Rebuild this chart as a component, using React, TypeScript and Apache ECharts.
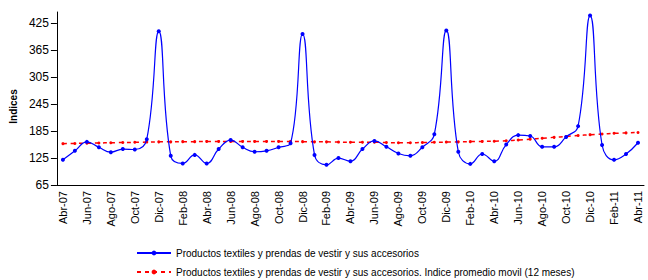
import React, { useEffect, useRef } from "react";
import * as echarts from "echarts";

const months = ["Abr", "May", "Jun", "Jul", "Ago", "Sep", "Oct", "Nov", "Dic", "Ene", "Feb", "Mar"];
const categories: string[] = [];
(() => {
  let y = 7;
  for (let i = 0; i < 49; i++) {
    const m = months[i % 12];
    if (m === "Ene") y += 1;
    categories.push(m + "-" + String(y).padStart(2, "0"));
  }
})();

const seriesName1 = "Productos textiles y prendas de vestir y sus accesorios";
const seriesName2 = "Productos textiles y prendas de vestir y sus accesorios. Indice promedio movil (12 meses)";

const indexValues = [
  121, 141, 161, 149, 138, 145, 144, 167, 407, 130, 113, 132,
  113, 145, 165, 149, 139, 141, 149, 158, 401, 132, 110, 125,
  118, 145, 163, 150, 135, 130, 149, 178, 409, 139, 112, 134,
  118, 155, 176, 174, 150, 150, 172, 196, 442, 154, 121, 134,
  159,
];

const movingAvg = [
  157, 157.5, 158, 158.5, 159, 159.5, 160, 160.5, 161, 161, 161.5, 161.5,
  162, 162, 162, 162, 162, 162, 162, 162, 161.5, 161, 161, 160.5,
  160, 160, 160, 159.5, 159, 159, 159.5, 160, 160.5, 161, 161.5, 162,
  162.5, 163.5, 165, 167, 169, 171, 173, 175, 177, 178.5, 180, 181,
  182,
];

const yTicks = [65, 125, 185, 245, 305, 365, 425];

export default function App() {
  const ref = useRef<HTMLDivElement>(null);
  useEffect(() => {
    if (!ref.current) return;
    const chart = echarts.init(ref.current, undefined, { renderer: "svg" });
    const font = "Liberation Sans, Arial, sans-serif";
    const legendBase = {
      orient: "horizontal",
      left: 131,
      itemWidth: 34,
      itemHeight: 6,
      textStyle: { fontFamily: font, fontSize: 10, color: "#000" },
    };
    chart.setOption({
      animation: false,
      backgroundColor: "#ffffff",
      grid: { left: 56, right: 4, top: 12, bottom: 95, containLabel: false },
      legend: [
        { ...legendBase, top: 243, data: [seriesName1] },
        { ...legendBase, top: 262, data: [seriesName2] },
      ],
      xAxis: {
        type: "category",
        data: categories,
        boundaryGap: true,
        axisLine: { lineStyle: { color: "#000", width: 1 } },
        axisTick: { interval: 1, length: 5, lineStyle: { color: "#000" } },
        axisLabel: {
          interval: 1,
          rotate: 90,
          fontFamily: font,
          fontSize: 11,
          color: "#000",
          margin: 6,
        },
        splitLine: { show: false },
      },
      yAxis: {
        type: "value",
        min: 65,
        max: 450,
        interval: 60,
        name: "Indices",
        nameLocation: "middle",
        nameGap: 38,
        nameTextStyle: { fontFamily: font, fontSize: 10, fontWeight: "bold", color: "#000", padding: [0, 0, 0, -16] },
        axisLine: { show: true, lineStyle: { color: "#000", width: 1 } },
        axisTick: { show: true, length: 6, lineStyle: { color: "#000" }, customValues: yTicks },
        axisLabel: { fontFamily: font, fontSize: 12, color: "#000", margin: 8, customValues: yTicks },
        splitLine: { show: false },
      },
      series: [
        {
          name: seriesName1,
          type: "line",
          data: indexValues,
          smooth: 0.45,
          symbol: "circle",
          symbolSize: 4,
          showSymbol: true,
          lineStyle: { color: "#0000ff", width: 1.2 },
          itemStyle: { color: "#0000ff" },
          z: 3,
        },
        {
          name: seriesName2,
          type: "line",
          data: movingAvg,
          smooth: true,
          symbol: "circle",
          symbolSize: 3,
          showSymbol: true,
          lineStyle: { color: "#ff0000", width: 1.5, type: [4, 4] },
          itemStyle: { color: "#ff0000" },
          z: 2,
        },
      ],
    });
    return () => chart.dispose();
  }, []);
  return <div ref={ref} style={{ width: 648, height: 280, position: "absolute", left: 0, top: 0 }} />;
}
